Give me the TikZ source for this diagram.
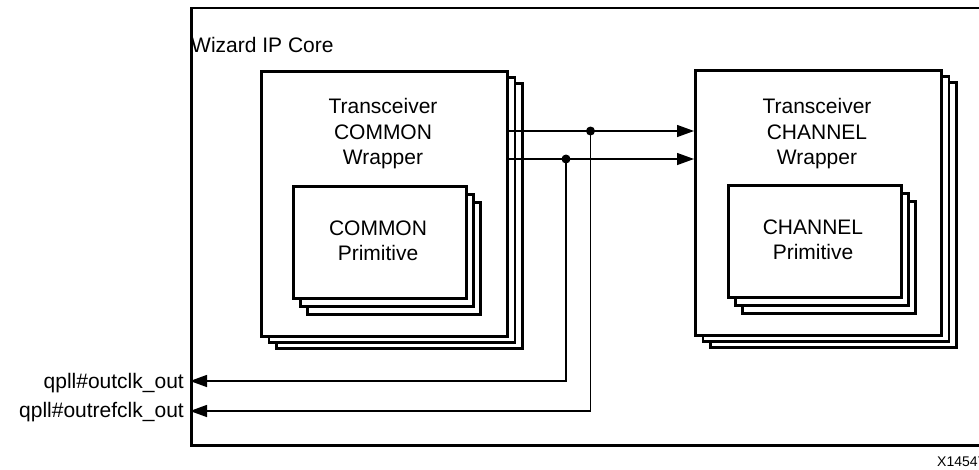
\documentclass[tikz,border=0pt]{standalone}
\usepackage{fontspec}
\setmainfont{Liberation Sans}
\usetikzlibrary{arrows.meta}
\begin{document}
\begin{tikzpicture}[x=1pt,y=-1pt,
  box/.style={draw=black,fill=white,line width=2.6pt,inner sep=0pt,anchor=north west},
  wrapbox/.style={box,minimum width=246pt,minimum height=265pt},
  primbox/.style={box,minimum width=173pt,minimum height=112pt},
  lbl/.style={font=\fontsize{21}{25.5}\selectfont,align=center,inner sep=0pt},
  wire/.style={line width=1.3pt},
  tip/.style={-{Triangle[length=17pt,width=12pt]}}
]
\useasboundingbox (0,0) rectangle (979,469);
% outer core
\node[box,minimum width=810pt,minimum height=437.5pt] (core) at (190,6.5) {};
\node[lbl,anchor=base west] (corelbl) at (191,52) {Wizard IP Core};
% COMMON wrapper stack
\node[wrapbox] (cw3) at (275,82) {};
\node[wrapbox] (cw2) at (267.5,76) {};
\node[wrapbox] (cw) at (260,70) {};
\node[lbl] (cwlbl) at (383,134) {Transceiver\\COMMON\\Wrapper};
\node[primbox] (cp3) at (306,201) {};
\node[primbox] (cp2) at (299,193) {};
\node[primbox] (cp) at (292,185) {};
\node[lbl] (cplbl) at (378,241) {COMMON\\Primitive};
% CHANNEL wrapper stack
\node[wrapbox] (chw3) at (709,81) {};
\node[wrapbox] (chw2) at (701.5,75) {};
\node[wrapbox] (chw) at (694,69) {};
\node[lbl] (chwlbl) at (817,134) {Transceiver\\CHANNEL\\Wrapper};
\node[primbox] (chp3) at (741,200) {};
\node[primbox] (chp2) at (734,192) {};
\node[primbox] (chp) at (727,184) {};
\node[lbl] (chplbl) at (813,240) {CHANNEL\\Primitive};
% wires
\coordinate (r1) at (0,131);
\coordinate (r2) at (0,159);
\coordinate (j1) at (590.5,131);
\coordinate (j2) at (566,159);
\coordinate (a1) at (0,381);
\coordinate (a2) at (0,411);
\draw[wire,tip] (cw.east |- r1) -- (chw.west |- r1);
\draw[wire,tip] (cw.east |- r2) -- (chw.west |- r2);
\fill (j1) circle (4.5);
\fill (j2) circle (4.5);
\draw[wire,tip] (j2) |- (core.west |- a1);
\draw[wire,tip] (j1) |- (core.west |- a2);
\node[lbl,anchor=base east] (o1) at (184,388) {qpll\#outclk\_out};
\node[lbl,anchor=base east] (o2) at (184,417) {qpll\#outrefclk\_out};
\node[font=\fontsize{14}{14}\selectfont,anchor=west,inner sep=0pt] (fig) at (937,462) {X14547};
\end{tikzpicture}
\end{document}
